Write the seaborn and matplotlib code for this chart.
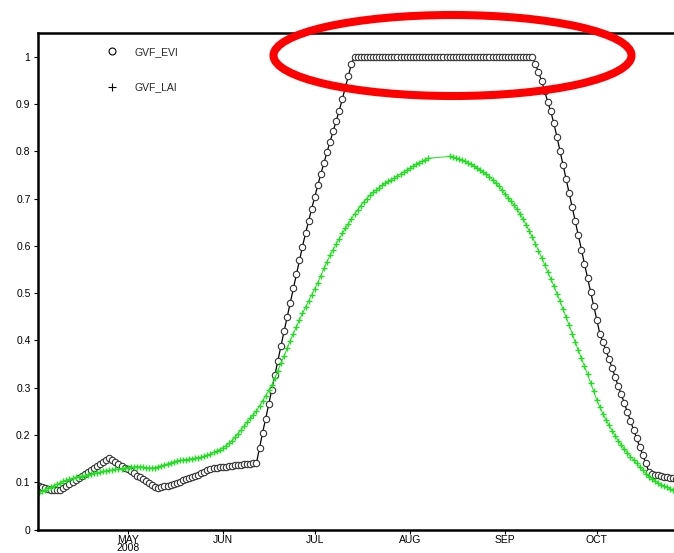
import numpy as np
import pandas as pd
import matplotlib
matplotlib.use('Agg')
import matplotlib.pyplot as plt
import seaborn as sns
from matplotlib.lines import Line2D
from matplotlib.patches import Ellipse

# daily values starting 2 Apr 2008
start_date = '2008-04-02'

gvf_evi = [
    0.091, 0.089, 0.087, 0.085, 0.084, 0.083, 0.083, 0.084, 0.088, 0.092,
    0.096, 0.100, 0.105, 0.109, 0.113, 0.117, 0.121, 0.126, 0.130, 0.134,
    0.138, 0.142, 0.147, 0.151, 0.147, 0.143, 0.139, 0.135, 0.131, 0.127,
    0.123, 0.119, 0.114, 0.110, 0.106, 0.102, 0.098, 0.094, 0.090, 0.087,
    0.089, 0.091, 0.093, 0.095, 0.097, 0.099, 0.101, 0.104, 0.106, 0.108,
    0.111, 0.114, 0.116, 0.119, 0.122, 0.125, 0.127, 0.130, 0.131, 0.132,
    0.133, 0.133, 0.134, 0.135, 0.136, 0.137, 0.137, 0.138, 0.139, 0.139,
    0.140, 0.141, 0.172, 0.205, 0.234, 0.265, 0.296, 0.326, 0.357, 0.388,
    0.419, 0.449, 0.480, 0.510, 0.540, 0.570, 0.598, 0.626, 0.652, 0.678,
    0.703, 0.728, 0.752, 0.775, 0.798, 0.820, 0.842, 0.864, 0.886, 0.910,
    0.935, 0.960, 0.985, 1.000, 1.000, 1.000, 1.000, 1.000, 1.000, 1.000,
    1.000, 1.000, 1.000, 1.000, 1.000, 1.000, 1.000, 1.000, 1.000, 1.000,
    1.000, 1.000, 1.000, 1.000, 1.000, 1.000, 1.000, 1.000, 1.000, 1.000,
    1.000, 1.000, 1.000, 1.000, 1.000, 1.000, 1.000, 1.000, 1.000, 1.000,
    1.000, 1.000, 1.000, 1.000, 1.000, 1.000, 1.000, 1.000, 1.000, 1.000,
    1.000, 1.000, 1.000, 1.000, 1.000, 1.000, 1.000, 1.000, 1.000, 1.000,
    1.000, 1.000, 0.984, 0.967, 0.949, 0.927, 0.905, 0.884, 0.859, 0.831,
    0.801, 0.771, 0.741, 0.711, 0.681, 0.652, 0.622, 0.592, 0.562, 0.532,
    0.503, 0.473, 0.444, 0.414, 0.396, 0.379, 0.361, 0.342, 0.323, 0.303,
    0.286, 0.267, 0.248, 0.230, 0.211, 0.193, 0.175, 0.158, 0.140, 0.122,
    0.118, 0.116, 0.115, 0.113, 0.112, 0.110, 0.109, 0.108, 0.107,
]

gvf_lai = [
    0.077, 0.081, 0.084, 0.087, 0.090, 0.093, 0.096, 0.099, 0.102, 0.104,
    0.106, 0.108, 0.110, 0.111, 0.113, 0.114, 0.116, 0.117, 0.119, 0.120,
    0.121, 0.123, 0.124, 0.125, 0.126, 0.127, 0.128, 0.129, 0.130, 0.131,
    0.132, 0.132, 0.133, 0.133, 0.132, 0.131, 0.130, 0.130, 0.131, 0.133,
    0.135, 0.137, 0.139, 0.141, 0.143, 0.145, 0.146, 0.147, 0.148, 0.149,
    0.150, 0.151, 0.152, 0.153, 0.155, 0.157, 0.160, 0.163, 0.166, 0.169,
    0.173, 0.177, 0.182, 0.188, 0.195, 0.203, 0.211, 0.219, 0.227, 0.235,
    0.243, 0.251, 0.261, 0.272, 0.283, 0.294, 0.305, 0.320, 0.336, 0.352,
    0.367, 0.383, 0.399, 0.414, 0.428, 0.443, 0.457, 0.470, 0.483, 0.496,
    0.509, 0.522, 0.537, 0.552, 0.566, 0.580, 0.592, 0.604, 0.615, 0.626,
    0.637, 0.647, 0.657, 0.667, 0.676, 0.685, 0.693, 0.700, 0.707, 0.713,
    0.718, 0.723, 0.728, 0.732, 0.736, 0.740, 0.744, 0.748, 0.752, 0.756,
    0.760, 0.764, 0.768, 0.772, 0.776, 0.779, 0.782, 0.785,
    np.nan, np.nan, np.nan, np.nan, np.nan, np.nan,
    0.789, 0.788, 0.786, 0.784, 0.782, 0.779, 0.776, 0.772, 0.768, 0.764,
    0.760, 0.756, 0.751, 0.746, 0.740, 0.733, 0.726, 0.718, 0.710, 0.702,
    0.694, 0.686, 0.677, 0.667, 0.656, 0.644, 0.631, 0.618, 0.604, 0.590,
    0.575, 0.560, 0.545, 0.530, 0.515, 0.499, 0.483, 0.466, 0.449, 0.432,
    0.414, 0.396, 0.379, 0.362, 0.345, 0.328, 0.310, 0.292, 0.274, 0.259,
    0.245, 0.232, 0.220, 0.209, 0.198, 0.188, 0.179, 0.170, 0.162, 0.154,
    0.147, 0.140, 0.133, 0.126, 0.118, 0.112, 0.107, 0.103, 0.099, 0.095,
    0.092, 0.089, 0.086, 0.083, 0.080,
]

month_ticks = ['2008-05-01', '2008-06-01', '2008-07-01', '2008-08-01',
               '2008-09-01', '2008-10-01']
month_labels = ['MAY\n2008', 'JUN', 'JUL', 'AUG', 'SEP', 'OCT']
y_ticks = [0, 0.1, 0.2, 0.3, 0.4, 0.5, 0.6, 0.7, 0.8, 0.9, 1]
y_labels = ['0', '0.1', '0.2', '0.3', '0.4', '0.5', '0.6', '0.7', '0.8', '0.9', '1']

dates = pd.date_range(start_date, periods=len(gvf_evi), freq='D')
df = pd.DataFrame({'date': dates, 'GVF_EVI': gvf_evi, 'GVF_LAI': gvf_lai})

sns.set_style('white')
plt.rcParams['font.family'] = ['Liberation Sans Narrow', 'Liberation Sans', 'DejaVu Sans']

W, H = 674, 553
fig = plt.figure(figsize=(W / 100, H / 100), dpi=100)
ax = fig.add_axes([37.5 / W, 23.5 / H, 1 - 37.5 / W, 496.5 / H])

sns.lineplot(data=df, x='date', y='GVF_EVI', ax=ax, color='black', lw=0.9,
             marker='o', markersize=4.6, mfc='white', mec='#333333', mew=0.8)
sns.lineplot(data=df.dropna(), x='date', y='GVF_LAI', ax=ax, color='#22dd22', lw=0.7,
             marker='+', markersize=5, mec='#22dd22', mew=1.0)

may1 = pd.Timestamp('2008-05-01')
ax.set_xlim(may1 - pd.Timedelta(days=29.42), may1 + pd.Timedelta(days=178.2))
ax.set_ylim(0, 1.05)
ax.set_xticks(pd.to_datetime(month_ticks))
ax.set_xticklabels(month_labels, linespacing=0.8)
ax.set_yticks(y_ticks)
ax.set_yticklabels(y_labels)
ax.set_xlabel('')
ax.set_ylabel('')

for side in ['top', 'left', 'bottom']:
    ax.spines[side].set_color('black')
    ax.spines[side].set_linewidth(1.8)
ax.spines['right'].set_visible(False)
ax.tick_params(left=True, direction='out', length=3, width=0.8,
               labelsize=7.5, pad=2, colors='black')
ax.tick_params(axis='x', bottom=True, pad=1)

handles = [
    Line2D([], [], ls='none', marker='o', mfc='white', mec='black', ms=5, mew=0.8),
    Line2D([], [], ls='none', marker='+', color='black', ms=6, mew=0.8),
]
ax.legend(handles, ['GVF_EVI', 'GVF_LAI'], loc='upper left',
          bbox_to_anchor=(106.8 / W, 1 - 47 / H), bbox_transform=fig.transFigure,
          frameon=False, handlelength=1, handletextpad=1.7, labelspacing=2.45,
          borderpad=0, borderaxespad=0, fontsize=7.5)

ring = Ellipse((452.5 / W, 1 - 55.5 / H), 358 / W, 81 / H, transform=fig.transFigure,
               fill=False, ec='red', lw=5.8, clip_on=False, zorder=10)
fig.add_artist(ring)

fig.savefig('out.png', dpi=100)
